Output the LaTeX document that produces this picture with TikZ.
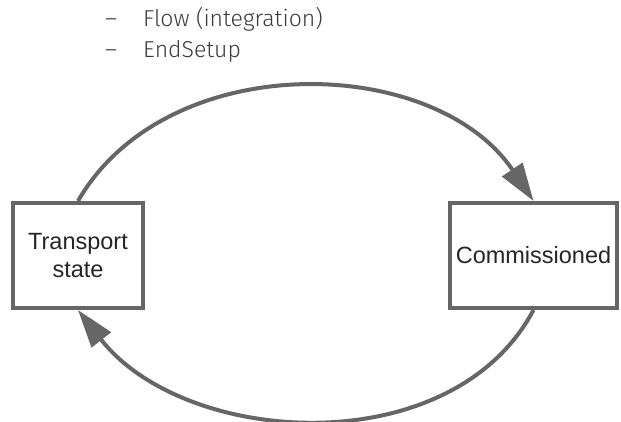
\documentclass[tikz,border=0pt]{standalone}
\usepackage{fontspec}
\setmainfont{Liberation Sans}
\newfontfamily\listfont[UprightFont={* Light}]{Fira Sans}
\usetikzlibrary{arrows.meta}
\definecolor{linegray}{HTML}{666666}
\definecolor{textdark}{HTML}{262626}
\definecolor{listtext}{HTML}{3A3A3A}
\tikzset{
  statebox/.style={draw=linegray, line width=4pt, fill=white, align=center,
    text=textdark, font=\fontsize{23.5}{28}\selectfont, inner sep=0pt},
  listitem/.style={anchor=base west, inner sep=0pt, text=listtext,
    font=\listfont\fontsize{23}{30}\selectfont},
  flow/.style={draw=linegray, line width=4pt,
    -{Triangle[length=38pt,width=24pt]}},
}
\begin{document}
\begin{tikzpicture}[x=1pt,y=1pt]
\useasboundingbox (0,0) rectangle (621,421);
\node[listitem] (d1) at (105,394) {–};
\node[listitem] (t1) at (143,394) {Flow (integration)};
\node[listitem] (d2) at (105,363) {–};
\node[listitem] (t2) at (143,363) {EndSetup};
\node[statebox, minimum width=130pt, minimum height=105pt] (L) at (78,165.5) {Transport\\state};
\node[statebox, minimum width=167pt, minimum height=105pt] (R) at (533.5,165.5) {Commissioned};
\draw[flow] (L.north) to[out=60,in=124,looseness=1] (R.north);
\draw[flow] (R.south) to[out=-118,in=-52,looseness=0.98] (L.south);
\end{tikzpicture}
\end{document}
